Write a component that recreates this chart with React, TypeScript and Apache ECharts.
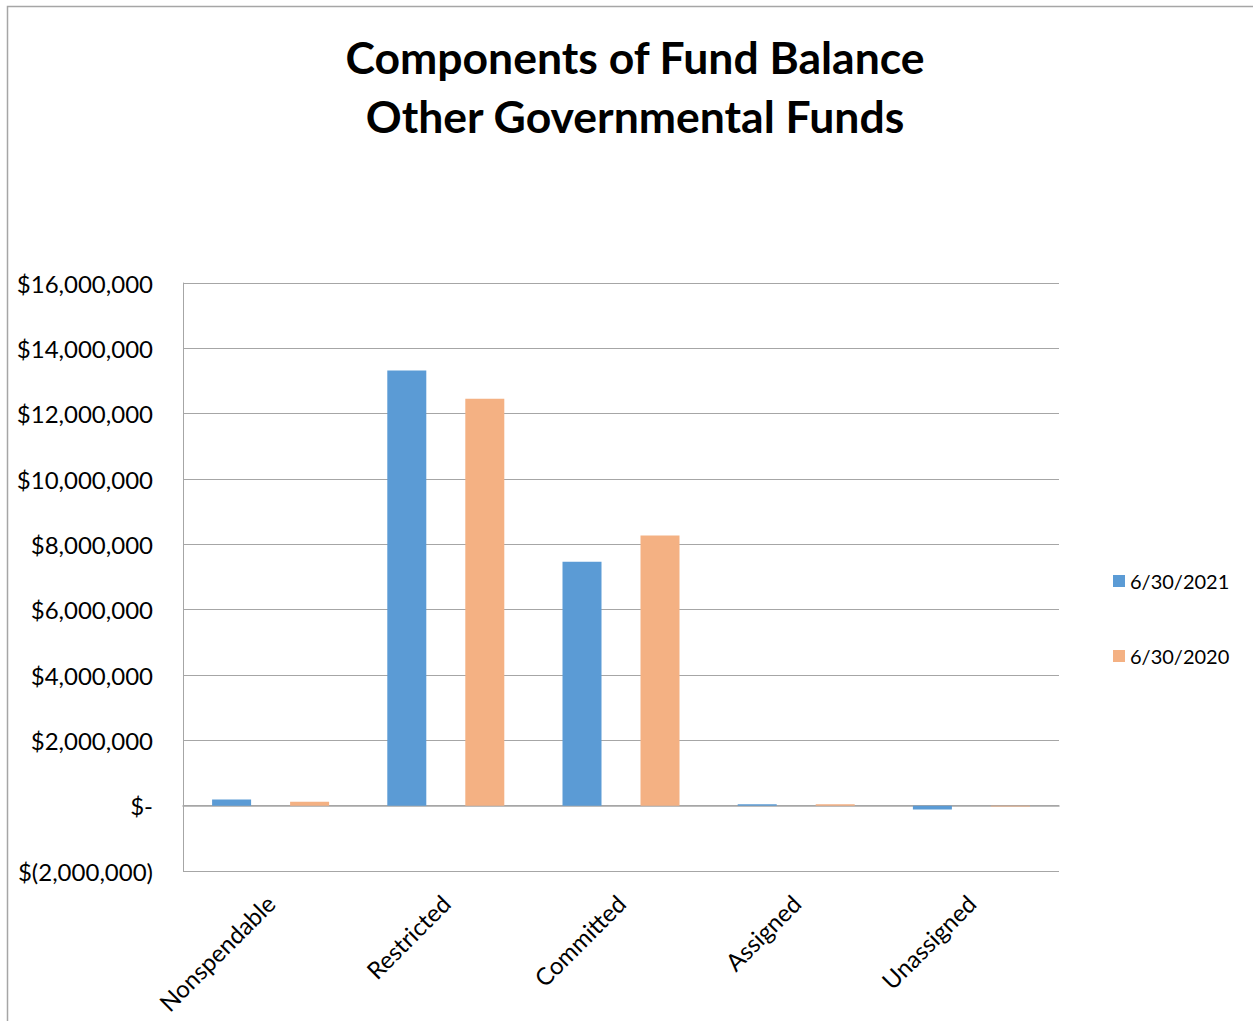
import React, { useEffect, useRef } from "react";
import * as echarts from "echarts";

const categories = ["Nonspendable", "Restricted", "Committed", "Assigned", "Unassigned"];
const seriesNames = ["6/30/2021", "6/30/2020"];
const values2021 = [190000, 13320000, 7470000, 45000, -115000];
const values2020 = [120000, 12460000, 8270000, 40000, -25000];
const colors = ["#5B9BD5", "#F4B183"];

const FONT = "Lato, 'Open Sans', sans-serif";

function fmt(v: number): string {
  if (v === 0) return "$-";
  const s = Math.abs(v).toLocaleString("en-US");
  return v < 0 ? "$(" + s + ")" : "$" + s;
}

export default function App() {
  const ref = useRef<HTMLDivElement>(null);
  useEffect(() => {
    if (!ref.current) return;
    const chart = echarts.init(ref.current, null, { renderer: "svg" });
    chart.setOption({
      animation: false,
      backgroundColor: "#ffffff",
      title: {
        text: "Components of Fund Balance\nOther Governmental Funds",
        left: 630,
        textAlign: "center",
        top: 22,
        textStyle: {
          fontFamily: FONT,
          fontWeight: "bold",
          fontSize: 44.5,
          lineHeight: 59,
          color: "#000",
        },
      },
      graphic: [
        {
          type: "polyline",
          shape: { points: [[7.5, 1021], [7.5, 6.5], [1253, 6.5]] },
          style: { stroke: "#a6a6a6", lineWidth: 1.5, fill: null },
          silent: true,
        },
      ],
      legend: {
        orient: "vertical",
        left: 1108,
        top: 566,
        itemGap: 55,
        itemWidth: 12,
        itemHeight: 12,
        icon: "rect",
        data: seriesNames,
        textStyle: { fontFamily: FONT, fontSize: 20, color: "#000", padding: [0, 0, 0, 0] },
      },
      grid: { left: 183, right: 194, top: 283, bottom: 150, containLabel: false, outerBoundsMode: "none" },
      xAxis: {
        type: "category",
        data: categories,
        axisLine: { onZero: true, lineStyle: { color: "#a6a6a6", width: 1.5 } },
        axisTick: { show: false },
        axisLabel: {
          rotate: 45,
          interval: 0,
          margin: 28,
          fontFamily: FONT,
          fontSize: 24,
          color: "#000",
        },
      },
      yAxis: {
        type: "value",
        min: -2000000,
        max: 16000000,
        interval: 2000000,
        axisLine: { show: true, lineStyle: { color: "#a6a6a6", width: 1 } },
        axisTick: { show: false },
        splitLine: { lineStyle: { color: "#a6a6a6", width: 1 } },
        axisLabel: {
          formatter: (v: number) => fmt(v),
          fontFamily: FONT,
          fontSize: 24,
          color: "#000",
          margin: 30,
        },
      },
      series: [
        {
          name: seriesNames[0],
          type: "bar",
          data: values2021,
          barWidth: 39,
          barGap: "100%",
          itemStyle: { color: colors[0] },
        },
        {
          name: seriesNames[1],
          type: "bar",
          data: values2020,
          barWidth: 39,
          barGap: "100%",
          itemStyle: { color: colors[1] },
        },
      ],
    });
    return () => chart.dispose();
  }, []);
  return (
    <div
      ref={ref}
      style={{ position: "absolute", left: 0, top: 0, width: 1253, height: 1021 }}
    />
  );
}
